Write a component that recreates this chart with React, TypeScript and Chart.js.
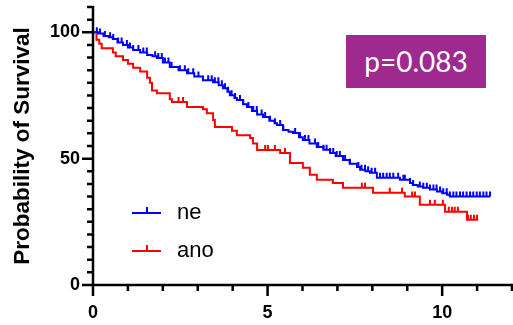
import React, { useEffect, useRef } from 'react';
import { Chart, registerables } from 'chart.js';

Chart.register(...registerables);

// ---- data ----
const seriesNames = ['ne', 'ano'];
const seriesColors = ['#0000FF', '#FF0000'];

// [time, survival %] after each event
const neEvents: [number, number][] = [
  [0, 100], [0.15, 99.5], [0.3, 98.5], [0.45, 98], [0.57, 97.3], [0.7, 96], [0.86, 95], [1.0, 94],
  [1.15, 93], [1.35, 92], [1.55, 91], [1.7, 90.5], [1.83, 89.8], [2.0, 88], [2.2, 86.3], [2.45, 85],
  [2.69, 83.8], [2.9, 82.5], [3.15, 81], [3.44, 80.2], [3.6, 79], [3.72, 77.9], [3.85, 76.5], [3.92, 75.1],
  [4.05, 74], [4.12, 73.2], [4.3, 71.5], [4.41, 70.4], [4.55, 68.8], [4.7, 67.5], [4.87, 66.5], [5.05, 65],
  [5.2, 64], [5.27, 63.3], [5.44, 61.3], [5.6, 60.6], [5.73, 60.1], [5.9, 58.5], [6.01, 57.4], [6.2, 56],
  [6.41, 54.6], [6.6, 53.5], [6.79, 52.2], [6.95, 51], [7.16, 49.5], [7.35, 48], [7.56, 46.7], [7.65, 45.6],
  [7.8, 45], [7.93, 44.4], [8.13, 42.4], [8.79, 41.6], [9.08, 40.4], [9.16, 39.6], [9.3, 39], [9.45, 38.5],
  [9.65, 37.8], [9.85, 37], [10.0, 36.3], [10.14, 35.7], [10.22, 35],
];
const neLastTime = 11.37;
const neCensored = [
  0.11, 0.2, 0.34, 0.49, 0.58, 0.72, 0.82, 0.97, 1.06, 1.15, 1.3, 1.44, 1.54, 1.78, 1.87, 1.97, 2.06, 2.16,
  2.25, 2.49, 2.63, 2.73, 2.87, 3.02, 3.3, 3.4, 3.49, 3.59, 3.69, 3.78, 3.87, 3.97, 4.07, 4.21, 4.3, 4.45,
  4.59, 4.69, 4.83, 4.93, 5.07, 5.21, 5.36, 5.45, 5.79, 5.93, 6.07, 6.17, 6.36, 6.45, 6.6, 6.69, 6.79, 6.88,
  6.98, 7.07, 7.22, 7.36, 7.6, 7.69, 7.79, 7.88, 7.98, 8.08, 8.22, 8.31, 8.41, 8.5, 8.6, 8.74, 8.89, 8.93,
  9.08, 9.17, 9.36, 9.46, 9.56, 9.65, 9.75, 9.84, 9.94, 10.03, 10.13, 10.22, 10.32, 10.41, 10.51, 10.6,
  10.7, 10.8, 10.89, 10.99, 11.08, 11.18, 11.27, 11.37,
];

const anoEvents: [number, number][] = [
  [0, 100], [0.1, 97], [0.18, 95.5], [0.25, 93.7], [0.57, 92], [0.65, 90.5], [0.86, 89], [1.0, 87.5],
  [1.15, 86], [1.35, 84.5], [1.55, 82], [1.63, 80], [1.69, 77], [1.83, 75.9], [2.2, 73.5], [2.26, 72.4],
  [2.69, 70.4], [3.15, 69.5], [3.26, 68], [3.44, 65.3], [3.49, 62.5], [3.98, 61], [4.12, 59.3], [4.5, 58.2],
  [4.58, 56], [4.7, 53.4], [5.36, 52.2], [5.64, 48.3], [6.01, 46.4], [6.21, 43.6], [6.41, 41.6], [6.87, 40.4],
  [7.16, 38.5], [8.02, 36.5], [8.93, 35], [9.36, 31.8], [10.08, 29], [10.71, 25.8],
];
const anoLastTime = 11.03;
const anoCensored = [
  2.45, 2.58, 4.93, 5.01, 5.21, 5.5, 7.7, 7.79, 8.5, 8.85, 9.14, 9.22, 9.65, 9.79, 10.02, 10.19, 10.28,
  10.36, 10.45, 10.74, 10.82, 10.91, 11.0,
];

const yTickLabels = [0, 50, 100];
const xTickLabels = [0, 5, 10];
const yAxisTitle = 'Probability of Survival';
const pValueText = 'p=0.083';

const X_MAX = 12;
const Y_MAX = 110;

function survivalAt(events: [number, number][], t: number): number {
  let s = 100;
  for (const [et, es] of events) {
    if (et <= t) s = es;
    else break;
  }
  return s;
}

function toPoints(events: [number, number][], last: number) {
  const pts = events.map(([x, y]) => ({ x, y }));
  pts.push({ x: last, y: events[events.length - 1][1] });
  return pts;
}

const allEvents = [neEvents, anoEvents];
const allCensored = [neCensored, anoCensored];

const axesPlugin = {
  id: 'prismAxes',
  afterDatasetsDraw(chart: any) {
    const ctx = chart.ctx;
    const xs = chart.scales.x;
    const ys = chart.scales.y;
    ctx.save();
    ctx.lineWidth = 2;
    allCensored.forEach((list, i) => {
      ctx.strokeStyle = seriesColors[i];
      ctx.beginPath();
      list.forEach((t) => {
        const s = survivalAt(allEvents[i], t);
        const px = xs.getPixelForValue(t);
        const py = ys.getPixelForValue(s);
        ctx.moveTo(px, py);
        ctx.lineTo(px, py - 5);
      });
      ctx.stroke();
    });
    ctx.restore();
  },
  afterDraw(chart: any) {
    const ctx = chart.ctx;
    const xs = chart.scales.x;
    const ys = chart.scales.y;
    const x0 = xs.getPixelForValue(0);
    const y0 = ys.getPixelForValue(0);
    ctx.save();
    ctx.strokeStyle = '#000';
    ctx.lineWidth = 2.5;
    ctx.lineCap = 'butt';
    ctx.beginPath();
    ctx.moveTo(x0, ys.getPixelForValue(Y_MAX) - 1);
    ctx.lineTo(x0, y0 + 11);
    ctx.moveTo(x0 - 11, y0);
    ctx.lineTo(xs.getPixelForValue(X_MAX) + 1, y0);
    for (let v = 0; v <= Y_MAX; v += 5) {
      const len = v % 50 === 0 ? 11 : 6;
      const py = ys.getPixelForValue(v);
      ctx.moveTo(x0 - len, py);
      ctx.lineTo(x0, py);
    }
    for (let v = 0; v <= X_MAX; v += 1) {
      const len = v % 5 === 0 ? 11 : 6;
      const px = xs.getPixelForValue(v);
      ctx.moveTo(px, y0);
      ctx.lineTo(px, y0 + len);
    }
    ctx.stroke();
    ctx.restore();
  },
};

const axisFont = 'Arial, "Liberation Sans", sans-serif';

export default function App() {
  const canvasRef = useRef<HTMLCanvasElement | null>(null);

  useEffect(() => {
    document.body.style.margin = '0';
    const canvas = canvasRef.current;
    if (!canvas) return;
    const chart = new Chart(canvas, {
      type: 'line',
      data: {
        datasets: [
          {
            label: seriesNames[0],
            data: toPoints(neEvents, neLastTime),
            borderColor: seriesColors[0],
            borderWidth: 2,
            pointRadius: 0,
            stepped: 'before',
            fill: false,
          },
          {
            label: seriesNames[1],
            data: toPoints(anoEvents, anoLastTime),
            borderColor: seriesColors[1],
            borderWidth: 2,
            pointRadius: 0,
            stepped: 'before',
            fill: false,
          },
        ],
      },
      options: {
        animation: false,
        responsive: false,
        maintainAspectRatio: false,
        layout: { padding: { top: 7, right: 1, left: 0, bottom: 0 } },
        plugins: {
          legend: { display: false },
          tooltip: { enabled: false },
        },
        scales: {
          x: {
            type: 'linear',
            min: 0,
            max: X_MAX,
            grid: { display: false, drawTicks: false },
            border: { display: false },
            ticks: {
              stepSize: 1,
              autoSkip: false,
              maxRotation: 0,
              padding: 17,
              color: '#000',
              font: { family: axisFont, size: 18, weight: 'bold' },
              callback: (v: any) => (xTickLabels.includes(Number(v)) ? String(v) : ''),
            },
            afterFit: (scale: any) => {
              scale.height = 40;
              scale.paddingLeft = 0;
              scale.paddingRight = 0;
            },
          },
          y: {
            type: 'linear',
            min: 0,
            max: Y_MAX,
            grid: { display: false, drawTicks: false },
            border: { display: false },
            ticks: {
              stepSize: 5,
              autoSkip: false,
              padding: 13,
              color: '#000',
              font: { family: axisFont, size: 18, weight: 'bold' },
              callback: (v: any) => (yTickLabels.includes(Number(v)) ? String(v) : ''),
            },
            title: {
              display: true,
              text: yAxisTitle,
              color: '#000',
              padding: { top: 9, bottom: 0 },
              font: { family: axisFont, size: 22.5, weight: 'bold' },
            },
            afterFit: (scale: any) => {
              scale.width = 93;
              scale.paddingTop = 0;
              scale.paddingBottom = 0;
            },
          },
        },
      },
      plugins: [axesPlugin],
    });
    return () => chart.destroy();
  }, []);

  return (
    <div style={{ position: 'relative', width: 513, height: 325, background: '#fff' }}>
      <canvas ref={canvasRef} width={513} height={325} style={{ position: 'absolute', left: 0, top: 0 }} />
      {seriesNames.map((name, i) => {
        const cy = 213 + i * 38;
        return (
          <div key={name}>
            <div style={{ position: 'absolute', left: 132, top: cy - 1, width: 29, height: 2, background: seriesColors[i] }} />
            <div style={{ position: 'absolute', left: 146, top: cy - 6, width: 2, height: 6, background: seriesColors[i] }} />
            <div
              style={{
                position: 'absolute',
                left: 177,
                top: cy - 15,
                height: 28,
                lineHeight: '28px',
                fontFamily: axisFont,
                fontSize: 22,
                color: '#000',
                whiteSpace: 'nowrap',
              }}
            >
              {name}
            </div>
          </div>
        );
      })}
      <div
        style={{
          position: 'absolute',
          left: 346,
          top: 35,
          width: 140,
          height: 53,
          background: '#9E2A8F',
          color: '#fff',
          fontFamily: 'Lato, "Open Sans", sans-serif',
          fontSize: 28,
          lineHeight: '53px',
          textAlign: 'center',
        }}
      >
        {pValueText}
      </div>
    </div>
  );
}
